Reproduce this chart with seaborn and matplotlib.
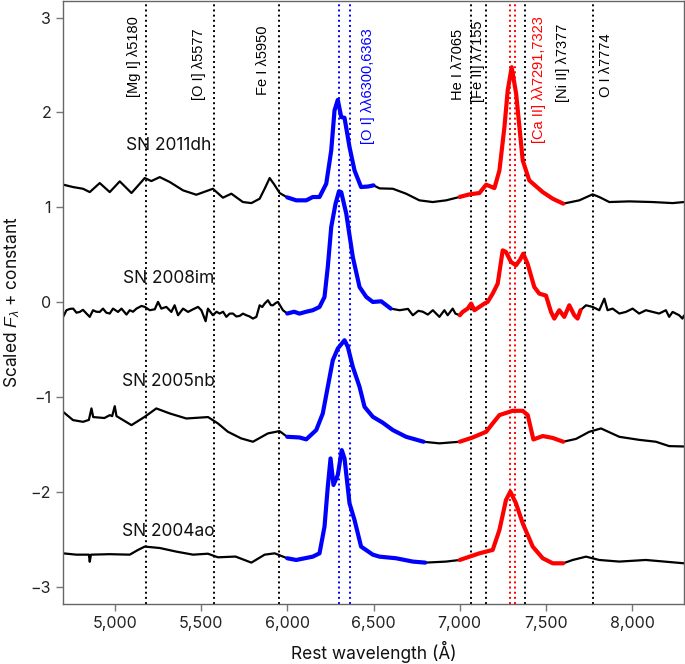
import numpy as np
import pandas as pd
import matplotlib
matplotlib.use("Agg")
import matplotlib.pyplot as plt
import matplotlib.ticker as mticker
import seaborn as sns

# spectra (rest wavelength in A, scaled flux + offset)
wl_2011dh = [4700, 4758, 4816, 4855, 4913, 4971, 5029, 5097, 5174, 5212, 5261, 5319, 5396,
             5473, 5569, 5627, 5676, 5743, 5792, 5840, 5870, 5898, 5925, 5956, 6000, 6052,
             6110, 6148, 6187, 6226, 6255, 6274, 6293, 6313, 6332, 6361, 6390, 6428, 6470,
             6500, 6535, 6612, 6689, 6766, 6843, 6921, 7000, 7056, 7114, 7153, 7201, 7230,
             7259, 7278, 7301, 7327, 7346, 7365, 7403, 7481, 7539, 7600, 7693, 7770, 7809,
             7867, 7983, 8118, 8234, 8300]
fl_2011dh = [1.24, 1.214, 1.196, 1.161, 1.256, 1.161, 1.274, 1.151, 1.309, 1.277, 1.319, 1.267,
             1.179, 1.133, 1.196, 1.102, 1.144, 1.056, 1.045, 1.091, 1.2, 1.309, 1.24, 1.151,
             1.105, 1.074, 1.074, 1.109, 1.109, 1.249, 1.6, 2.021, 2.133, 1.951, 1.944, 1.635,
             1.389, 1.214, 1.22, 1.232, 1.2, 1.196, 1.144, 1.074, 1.056, 1.074, 1.11, 1.137,
             1.151, 1.239, 1.203, 1.389, 1.846, 2.232, 2.477, 2.196, 1.846, 1.495, 1.284, 1.161,
             1.091, 1.039, 1.074, 1.137, 1.109, 1.056, 1.063, 1.056, 1.045, 1.056]

wl_2008im = [4701, 4720, 4740, 4759, 4778, 4797, 4816, 4836, 4855, 4874, 4893, 4913, 4932, 4951,
             4971, 4990, 5019, 5039, 5068, 5087, 5106, 5126, 5155, 5174, 5203, 5232, 5251, 5270,
             5299, 5328, 5347, 5367, 5396, 5425, 5454, 5483, 5502, 5527, 5540, 5569, 5590, 5608,
             5628, 5647, 5666, 5685, 5705, 5724, 5743, 5763, 5782, 5801, 5821, 5840, 5855, 5869,
             5888, 5905, 5917, 5932, 5946, 5975, 6000, 6040, 6071, 6110, 6148, 6187, 6216, 6235,
             6255, 6280, 6300, 6313, 6342, 6380, 6419, 6458, 6496, 6545, 6600, 6651, 6700, 6728,
             6760, 6786, 6815, 6844, 6882, 6911, 6930, 6959, 6975, 7000, 7017, 7046, 7066, 7085,
             7114, 7143, 7162, 7191, 7220, 7249, 7268, 7297, 7326, 7350, 7368, 7393, 7432, 7461,
             7500, 7529, 7548, 7577, 7606, 7635, 7664, 7683, 7700, 7732, 7770, 7809, 7838, 7857,
             7886, 7925, 7963, 8002, 8040, 8079, 8118, 8156, 8195, 8214, 8234, 8272, 8291, 8300]
fl_2008im = [-0.154, -0.084, -0.07, -0.067, -0.11, -0.102, -0.08, -0.119, -0.154, -0.084, -0.1,
             -0.102, -0.067, -0.11, -0.119, -0.067, -0.102, -0.067, -0.13, -0.084, -0.1, -0.067,
             -0.039, -0.049, -0.084, -0.074, 0.004, -0.067, -0.049, -0.102, -0.032, -0.137,
             -0.067, -0.102, -0.074, -0.049, -0.084, -0.2, -0.067, -0.137, -0.1, -0.119, -0.1,
             -0.154, -0.12, -0.119, -0.15, -0.144, -0.12, -0.137, -0.15, -0.172, -0.154, -0.032,
             -0.05, -0.014, 0.021, -0.03, -0.032, -0.01, 0.004, -0.084, -0.119, -0.1, -0.12,
             -0.1, -0.084, -0.05, 0.056, 0.372, 0.793, 1.039, 1.17, 1.16, 0.934, 0.477, 0.161,
             0.056, 0.003, 0.01, -0.067, -0.084, -0.07, -0.137, -0.09, -0.1, -0.13, -0.084,
             -0.154, -0.084, -0.137, -0.067, -0.12, -0.137, -0.102, -0.067, -0.014, -0.084,
             -0.049, -0.014, 0.004, 0.091, 0.196, 0.547, 0.53, 0.425, 0.389, 0.45, 0.512, 0.407,
             0.161, 0.091, 0.07, -0.102, -0.172, -0.084, -0.154, -0.032, -0.137, -0.172, -0.084,
             -0.032, -0.049, -0.084, 0.038, -0.084, -0.067, -0.119, -0.102, -0.067, -0.119,
             -0.084, -0.102, -0.119, -0.084, -0.154, -0.102, -0.137, -0.172, -0.14]

wl_2005nb = [4700, 4758, 4816, 4850, 4865, 4875, 4940, 4971, 4985, 5000, 5010, 5097, 5174, 5241,
             5319, 5415, 5541, 5598, 5656, 5733, 5801, 5888, 5955, 6000, 6071, 6110, 6168, 6206,
             6235, 6264, 6293, 6332, 6351, 6380, 6419, 6448, 6496, 6554, 6612, 6689, 6790, 6882,
             7000, 7075, 7153, 7191, 7230, 7307, 7365, 7394, 7427, 7481, 7539, 7600, 7674, 7751,
             7819, 7925, 8040, 8137, 8214, 8300]
fl_2005nb = [-1.154, -1.242, -1.26, -1.24, -1.119, -1.21, -1.22, -1.19, -1.2, -1.095, -1.2,
             -1.295, -1.207, -1.119, -1.172, -1.225, -1.21, -1.277, -1.365, -1.435, -1.47,
             -1.382, -1.358, -1.418, -1.425, -1.445, -1.347, -1.172, -0.891, -0.611, -0.488,
             -0.4, -0.47, -0.681, -0.891, -1.102, -1.207, -1.27, -1.347, -1.418, -1.47, -1.487,
             -1.47, -1.425, -1.365, -1.277, -1.189, -1.144, -1.144, -1.189, -1.446, -1.41,
             -1.43, -1.47, -1.44, -1.365, -1.33, -1.418, -1.45, -1.47, -1.516, -1.52]

wl_2004ao = [4700, 4777, 4850, 4855, 4862, 4971, 5087, 5135, 5174, 5261, 5357, 5454, 5540, 5598,
             5700, 5792, 5869, 5927, 6000, 6052, 6148, 6187, 6216, 6235, 6251, 6268, 6293, 6316,
             6332, 6361, 6390, 6428, 6496, 6535, 6631, 6728, 6800, 6921, 7000, 7114, 7191, 7230,
             7268, 7293, 7326, 7365, 7423, 7481, 7539, 7600, 7655, 7732, 7809, 7925, 8079, 8300]
fl_2004ao = [-2.646, -2.66, -2.66, -2.735, -2.66, -2.655, -2.66, -2.61, -2.575, -2.59, -2.628,
             -2.66, -2.65, -2.688, -2.68, -2.744, -2.66, -2.646, -2.698, -2.716, -2.681, -2.646,
             -2.365, -1.944, -1.646, -1.926, -1.821, -1.558, -1.646, -2.119, -2.295, -2.575,
             -2.66, -2.681, -2.698, -2.733, -2.744, -2.733, -2.716, -2.646, -2.61, -2.4, -2.084,
             -1.996, -2.119, -2.33, -2.575, -2.698, -2.751, -2.751, -2.716, -2.681, -2.716,
             -2.733, -2.716, -2.751]

sn_names = ["SN 2011dh", "SN 2008im", "SN 2005nb", "SN 2004ao"]
oi_ranges = [(6000, 6500), (6000, 6600), (6000, 6790), (6000, 6800)]
caii_ranges = [(7000, 7600), (7000, 7700), (7000, 7600), (7000, 7600)]

line_waves = [5180, 5577, 5950, 6300, 6363, 7065, 7155, 7291, 7323, 7377, 7774]
line_colors = ["black", "black", "black", "blue", "blue", "black", "black", "red", "red",
               "black", "black"]
line_labels = ["[Mg I] λ5180", "[O I] λ5577", "Fe I λ5950", "[O I] λλ6300,6363",
               "He I λ7065", "[Fe II] λ7155", "[Ca II] λλ7291,7323", "[Ni II] λ7377",
               "O I λ7774"]
label_colors = ["black", "black", "black", "blue", "black", "black", "red", "black", "black"]

spectra = [(wl_2011dh, fl_2011dh), (wl_2008im, fl_2008im),
           (wl_2005nb, fl_2005nb), (wl_2004ao, fl_2004ao)]

sns.set_theme(style="ticks")
plt.rcParams["font.family"] = ["Inter", "DejaVu Sans"]
plt.rcParams["mathtext.fontset"] = "custom"
plt.rcParams["mathtext.it"] = "Liberation Sans:italic"
plt.rcParams["mathtext.rm"] = "Liberation Sans"

fig = plt.figure(figsize=(6.85, 6.64), dpi=100)
ax = fig.add_axes([63 / 685, 60 / 664, 621 / 685, 603.5 / 664])

# reference lines
for w, c in zip(line_waves, line_colors):
    ax.axvline(w, ls=":", color=c, lw=1.4, zorder=1)

# spectra, with the [O I] and [Ca II] regions highlighted
for (wl, fl), ob, ca in zip(spectra, oi_ranges, caii_ranges):
    df = pd.DataFrame({"wl": wl, "fl": fl})
    sns.lineplot(data=df, x="wl", y="fl", color="black", lw=1.6, ax=ax,
                 estimator=None, sort=False, zorder=2)
    for (lo, hi), col in [(ob, "blue"), (ca, "red")]:
        seg = df[(df.wl >= lo) & (df.wl <= hi)]
        sns.lineplot(data=seg, x="wl", y="fl", color=col, lw=3.0, ax=ax,
                     estimator=None, sort=False, zorder=3)

# line labels (anchor x, bottom y, alignment)
label_layout = [(5151, 2.16, "right"), (5531, 2.13, "right"), (5902, 2.18, "right"),
                (6429, 1.67, "left"), (7033, 2.13, "right"), (7148, 2.11, "right"),
                (7421, 1.68, "left"), (7560, 2.11, "left"), (7809, 2.16, "left")]
for txt, col, (lx, ly, ha) in zip(line_labels, label_colors, label_layout):
    ax.text(lx, ly, txt, rotation=90, ha=ha, va="bottom", color=col, fontsize=10.5,
            family=["Liberation Sans", "DejaVu Sans"])

# SN names
name_y = [1.65, 0.25, -0.84, -2.42]
for name, ny in zip(sn_names, name_y):
    ax.text(5310, ny, name, ha="center", va="center", fontsize=12.5, color="#111111")

ax.set_xlim(4700, 8300)
ax.set_ylim(-3.18, 3.18)
ax.set_xticks([5000, 5500, 6000, 6500, 7000, 7500, 8000])
ax.set_yticks([-3, -2, -1, 0, 1, 2, 3])
ax.xaxis.set_major_formatter(mticker.StrMethodFormatter("{x:,.0f}"))
ax.tick_params(direction="out", length=5, width=1, color="#777777",
               labelsize=11.5, labelcolor="#222222")
for sp in ax.spines.values():
    sp.set_color("#666666")
    sp.set_linewidth(1.0)
    sp.set_visible(True)

ax.set_xlabel("Rest wavelength (Å)", fontsize=12.5, color="#111111", labelpad=7)
ax.set_ylabel("Scaled $F_\\lambda$ + constant", fontsize=12.5, color="#111111", labelpad=6)

fig.savefig("out.png", dpi=100)
